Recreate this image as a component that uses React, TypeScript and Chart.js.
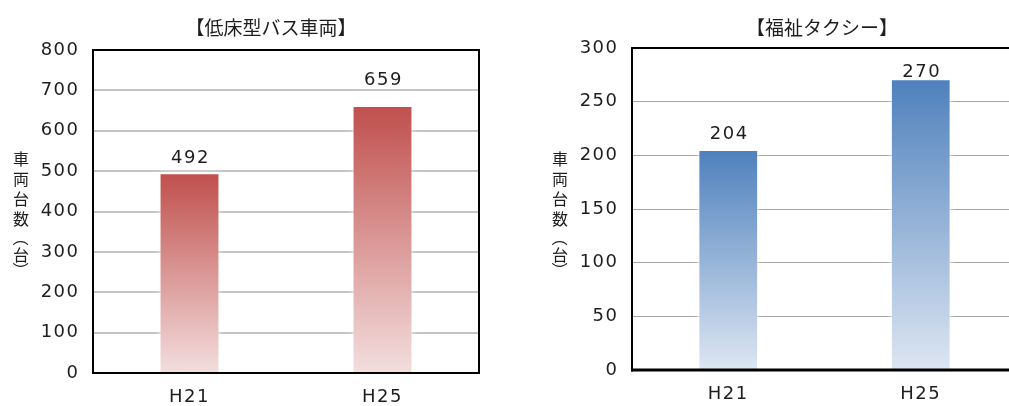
import { useEffect, useRef } from "react";
import { Chart, registerables } from "chart.js";

Chart.register(...registerables);

// Fiscal years shown on both panels
const categories = ["H21", "H25"];

// Low-floor buses
const busTitle = "【低床型バス車両】";
const busValues = [492, 659];
const busAxisMax = 800;
const busAxisStep = 100;

// Welfare taxis
const taxiTitle = "【福祉タクシー】";
const taxiValues = [204, 270];
const taxiAxisMax = 300;
const taxiAxisStep = 50;

// Vertical axis caption: 車両台数（台）, one glyph per row
const axisCaption = ["車", "両", "台", "数", "（", "台", "）"];

const DIGIT_FONT = '"DejaVu Sans", sans-serif';
const CJK_FONT = '"Noto Sans CJK JP", sans-serif';
const INK = "#1e1e1e";
const DIGIT_SIZE = 18;
const DIGIT_SPACING = "1.5px";

// row centres of the stacked caption, from its first glyph
const CAPTION_TOP = 158.5;
const CAPTION_ROWS = [0, 20, 40, 60, 79.5, 96, 111.5];

type PanelOpts = {
  title: string;
  titleX: number;
  titleY: number;
  captionX: number;
  labelGaps: number[];
  frameWidths: { top: number; left: number; bottom: number; right: number };
};

const gradientFill = (top: string, bottom: string) => (c: any) => {
  const chart = c.chart;
  const y = chart.scales && chart.scales.y;
  if (!y || c.type !== "data") return top;
  const yTop = y.getPixelForValue(c.raw as number);
  const yBase = y.getPixelForValue(0);
  if (!isFinite(yTop) || !isFinite(yBase)) return top;
  const g = chart.ctx.createLinearGradient(0, yTop, 0, yBase);
  g.addColorStop(0, top);
  g.addColorStop(1, bottom);
  return g;
};

const panelPlugin = {
  id: "panel",
  beforeDraw(chart: any) {
    chart.ctx.letterSpacing = DIGIT_SPACING;
  },
  beforeDatasetsDraw(chart: any) {
    const ctx = chart.ctx;
    ctx.save();
    ctx.shadowColor = "rgba(255,255,255,1)";
    ctx.shadowBlur = 6;
  },
  afterDatasetsDraw(chart: any, _args: any, opts: PanelOpts) {
    const ctx = chart.ctx;
    ctx.restore();
    const a = chart.chartArea;

    // frame around the plot area
    ctx.save();
    ctx.fillStyle = "#000";
    const f = opts.frameWidths;
    const w = a.right - a.left + f.left / 2 + f.right / 2;
    const h = a.bottom - a.top + f.top / 2 + f.bottom / 2;
    ctx.fillRect(a.left - f.left / 2, a.top - f.top / 2, w, f.top);
    ctx.fillRect(a.left - f.left / 2, a.bottom - f.bottom / 2, w, f.bottom);
    ctx.fillRect(a.left - f.left / 2, a.top - f.top / 2, f.left, h);
    ctx.fillRect(a.right - f.right / 2, a.top - f.top / 2, f.right, h);
    ctx.restore();

    // value labels above the bars
    const meta = chart.getDatasetMeta(0);
    const data = chart.data.datasets[0].data as number[];
    ctx.save();
    ctx.font = `${DIGIT_SIZE}px ${DIGIT_FONT}`;
    ctx.fillStyle = INK;
    ctx.textAlign = "center";
    ctx.textBaseline = "alphabetic";
    meta.data.forEach((bar: any, i: number) => {
      ctx.fillText(String(data[i]), bar.x + 1, bar.y - (opts.labelGaps[i] ?? 10));
    });
    ctx.restore();
  },
  afterDraw(chart: any, _args: any, opts: PanelOpts) {
    const ctx = chart.ctx;
    ctx.save();
    ctx.letterSpacing = "0px";
    ctx.fillStyle = INK;
    ctx.textAlign = "center";
    ctx.textBaseline = "middle";

    // panel title
    ctx.font = `19px ${CJK_FONT}`;
    ctx.fillText(opts.title, opts.titleX, opts.titleY);

    // stacked vertical caption; brackets are turned a quarter for vertical setting
    ctx.font = `16px ${CJK_FONT}`;
    axisCaption.forEach((ch, i) => {
      const y = CAPTION_TOP + CAPTION_ROWS[i];
      if (ch === "（" || ch === "）") {
        ctx.save();
        ctx.translate(opts.captionX, y);
        ctx.rotate(Math.PI / 2);
        ctx.fillText(ch, 0, 0);
        ctx.restore();
      } else {
        ctx.fillText(ch, opts.captionX, y);
      }
    });
    ctx.restore();
  },
};

function makeConfig(
  values: number[],
  axisMax: number,
  axisStep: number,
  colors: [string, string],
  gridColor: string,
  gridWidth: number,
  yWidth: number,
  xHeight: number,
  padding: { top: number; right: number },
  xPad: number,
  panel: PanelOpts
): any {
  return {
    type: "bar",
    data: {
      labels: categories,
      datasets: [
        {
          data: values,
          backgroundColor: gradientFill(colors[0], colors[1]),
          borderWidth: 0,
          barPercentage: 0.3,
          categoryPercentage: 1,
        },
      ],
    },
    options: {
      responsive: false,
      animation: false,
      events: [],
      layout: { padding: { top: padding.top, right: padding.right, left: 0, bottom: 0 } },
      plugins: {
        legend: { display: false },
        title: { display: false },
        tooltip: { enabled: false },
        panel,
      },
      scales: {
        x: {
          grid: { display: false, drawTicks: false },
          border: { display: false },
          ticks: { color: INK, font: { family: DIGIT_FONT, size: DIGIT_SIZE }, padding: xPad },
          afterFit: (s: any) => {
            s.height = xHeight;
          },
        },
        y: {
          min: 0,
          max: axisMax,
          ticks: {
            stepSize: axisStep,
            color: INK,
            font: { family: DIGIT_FONT, size: DIGIT_SIZE },
            padding: 13.5,
          },
          grid: { color: gridColor, lineWidth: gridWidth, drawTicks: false },
          border: { display: false },
          afterFit: (s: any) => {
            s.width = yWidth;
          },
        },
      },
    },
    plugins: [panelPlugin],
  };
}

function Panel(props: { left: number; width: number; config: any }) {
  const ref = useRef<HTMLCanvasElement | null>(null);
  useEffect(() => {
    if (!ref.current) return;
    const chart = new Chart(ref.current, props.config);
    return () => chart.destroy();
  }, []);
  return (
    <canvas
      ref={ref}
      width={props.width}
      height={406}
      style={{ position: "absolute", left: props.left, top: 0, width: props.width, height: 406, display: "block" }}
    />
  );
}

export default function App() {
  const busConfig = makeConfig(
    busValues,
    busAxisMax,
    busAxisStep,
    ["rgb(192,80,77)", "rgb(243,222,222)"],
    "#c4c4c4",
    2,
    93,
    33,
    { top: 50, right: 21 },
    14,
    {
      title: busTitle,
      titleX: 271,
      titleY: 28,
      captionX: 21,
      labelGaps: [11, 22],
      frameWidths: { top: 2, left: 2, bottom: 2, right: 2 },
    }
  );
  const taxiConfig = makeConfig(
    taxiValues,
    taxiAxisMax,
    taxiAxisStep,
    ["rgb(79,129,189)", "rgb(221,230,242)"],
    "#a4a4a4",
    1,
    123,
    36,
    { top: 48, right: 12 },
    14,
    {
      title: taxiTitle,
      titleX: 313,
      titleY: 28,
      captionX: 51,
      labelGaps: [12, 3],
      frameWidths: { top: 2, left: 2, bottom: 3, right: 2 },
    }
  );
  return (
    <div
      style={{
        position: "fixed",
        left: 0,
        top: 0,
        width: 1009,
        height: 406,
        overflow: "hidden",
        background: "#fff",
      }}
    >
      <Panel left={0} width={500} config={busConfig} />
      <Panel left={509} width={520} config={taxiConfig} />
    </div>
  );
}
